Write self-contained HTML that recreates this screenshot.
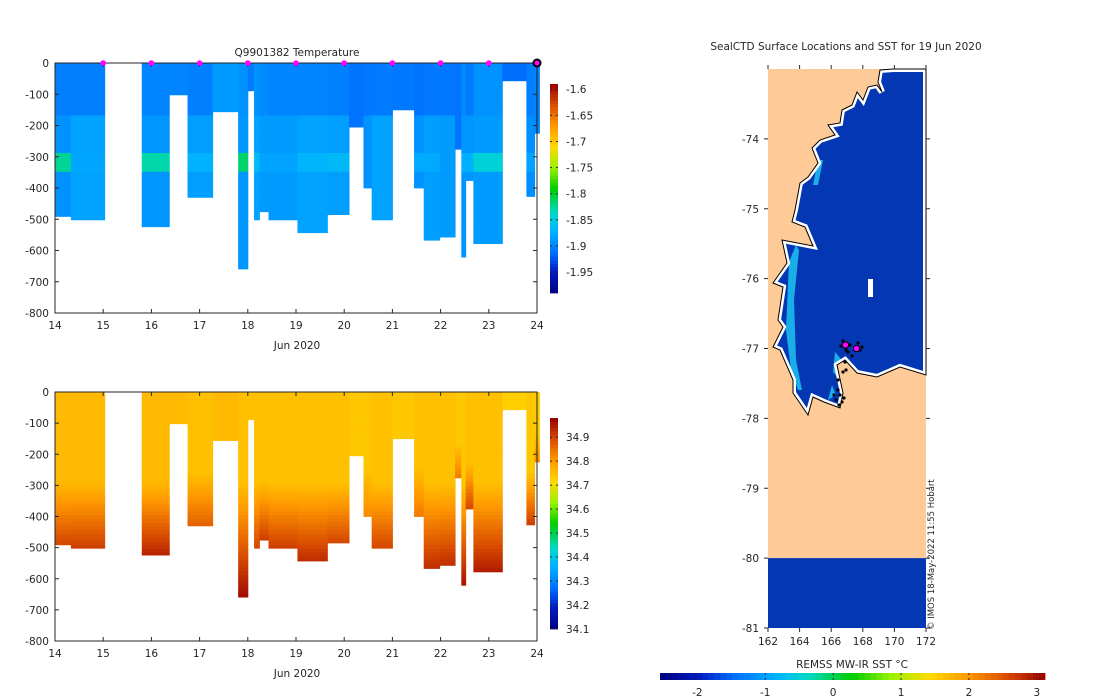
<!DOCTYPE html>
<html><head><meta charset="utf-8"><style>
html,body{margin:0;padding:0;background:#fff;}
svg{display:block;font-family:"DejaVu Sans","Liberation Sans",sans-serif;}
text{font-size:10.5px;fill:#262626;}
</style></head><body>
<svg id="fig" width="1100" height="700" viewBox="0 0 1100 700">
 <defs><clipPath id="seaClip"><polygon id="seaClipPoly" points=""/></clipPath></defs>
 <g id="tempPlot"></g>
 <g id="salPlot"></g>
 <g id="mapPlot"></g>
</svg>
<script>
// ---------- data ----------
const profStart = [14.0,14.33,15.8,16.37,16.75,17.27,17.8,18.0,18.13,18.24,18.43,19.03,19.65,20.1,20.4,20.57,21.0,21.45,21.65,21.98,22.3,22.43,22.52,22.68,23.28,23.78,23.95];
const profEnd   = [14.33,15.03,16.37,16.75,17.27,17.8,18.0,18.13,18.24,18.43,19.03,19.65,20.1,20.4,20.57,21.0,21.45,21.65,21.98,22.3,22.43,22.52,22.68,23.28,23.78,23.95,24.05];
const profDepth = [491,502,524,102,430,156,659,89,502,476,502,543,485,205,400,502,150,400,567,557,276,621,376,578,57,427,225];
const tempUpper = [-1.902,-1.902,-1.899,-1.899,-1.902,-1.885,-1.890,-1.905,-1.890,-1.895,-1.899,-1.899,-1.902,-1.909,-1.907,-1.905,-1.907,-1.909,-1.907,-1.907,-1.909,-1.895,-1.905,-1.890,-1.912,-1.902,-1.897];
const tempLower = [-1.890,-1.880,-1.888,-1.899,-1.882,-1.885,-1.888,-1.905,-1.880,-1.885,-1.885,-1.880,-1.883,-1.909,-1.890,-1.880,-1.907,-1.890,-1.883,-1.885,-1.909,-1.888,-1.888,-1.885,-1.912,-1.892,-1.897];
const tempBand  = [-1.825,-1.878,-1.830,-1.899,-1.870,-1.885,-1.815,-1.905,-1.860,-1.880,-1.880,-1.868,-1.865,-1.909,-1.890,-1.880,-1.907,-1.875,-1.875,-1.885,-1.909,-1.870,-1.872,-1.845,-1.912,-1.880,-1.897];
const salTop    = [34.76,34.76,34.76,34.76,34.75,34.76,34.75,34.75,34.75,34.75,34.75,34.75,34.75,34.74,34.74,34.75,34.74,34.75,34.75,34.75,34.74,34.74,34.75,34.75,34.73,34.74,34.73];
const salBot    = [34.90,34.91,34.94,34.76,34.87,34.76,34.97,34.75,34.90,34.91,34.91,34.93,34.90,34.74,34.82,34.90,34.74,34.84,34.93,34.93,34.84,34.96,34.90,34.95,34.73,34.91,34.82];
const dayTicks = [14,15,16,17,18,19,20,21,22,23,24];
const depthTicks = [0,-100,-200,-300,-400,-500,-600,-700,-800];
const tempCbTicks = [-1.6,-1.65,-1.7,-1.75,-1.8,-1.85,-1.9,-1.95];
const salCbTicks = [34.9,34.8,34.7,34.6,34.5,34.4,34.3,34.2,34.1];
const markerDays = [15,16,17,18,19,20,21,22,23];
const lonTicks = [162,164,166,168,170,172];
const latTicks = [-74,-75,-76,-77,-78,-79,-80,-81];
const sstTicks = [-2,-1,0,1,2,3];
const stationLon = [166.9,167.6];
const stationLat = [-76.95,-77.0];

// ---------- helpers ----------
const NS="http://www.w3.org/2000/svg";
function mk(tag,attrs,parent){const e=document.createElementNS(NS,tag);for(const k in attrs)e.setAttribute(k,attrs[k]);parent.appendChild(e);return e;}
function cl(v){return Math.max(0,Math.min(1,v));}
const CM=[[0,0,0,0.5],[0.1,0,0.1,0.75],[0.2,0,0.45,1],[0.3,0,0.7,1],[0.38,0,0.85,0.8],[0.5,0,0.8,0],[0.6,0.6,0.95,0],[0.7,1,0.85,0],[0.8,1,0.6,0],[0.9,0.85,0.3,0],[1,0.6,0,0]];
function jet(t){t=cl(t);let i=0;while(i<CM.length-2&&t>CM[i+1][0])i++;
 const a=CM[i],b=CM[i+1],f=(t-a[0])/(b[0]-a[0]);
 const c=[1,2,3].map(k=>Math.round((a[k]+(b[k]-a[k])*f)*255));
 return `rgb(${c[0]},${c[1]},${c[2]})`;}
const T0=-1.99,T1=-1.59,S0=34.1,S1=34.98,M0=-2.55,M1=3.12;

function section(gid,y0,y1,valueFn,vmin,vmax,cbTop,cbBot,cbTicks,cbFmt,title){
 const g=document.getElementById(gid);
 const X0=55,X1=537;
 const xs=d=>X0+(d-14)*(X1-X0)/10;
 const ys=m=>y0+(-m)*(y1-y0)/800;
 for(let i=0;i<profStart.length;i++){
  const depth=profDepth[i];
  for(let d=0;d<depth;d+=12){
   const dd=Math.min(12,depth-d);
   const r=mk('rect',{x:xs(profStart[i]),y:ys(-d),width:xs(profEnd[i])-xs(profStart[i])+0.5,height:ys(-(d+dd))-ys(-d)+0.4,fill:jet((valueFn(i,d+dd/2)-vmin)/(vmax-vmin))},g);
   
   
  }
 }
 const fr=mk('rect',{x:X0,y:y0,width:X1-X0,height:y1-y0,fill:'none',stroke:'#262626','stroke-width':1},g);
 
 
 dayTicks.forEach(d=>{
  mk('line',{x1:xs(d),x2:xs(d),y1:y1,y2:y1-4,stroke:'#262626'},g);
  mk('line',{x1:xs(d),x2:xs(d),y1:y0,y2:y0+4,stroke:'#262626'},g);
  const t=mk('text',{x:xs(d),y:y1+16,'text-anchor':'middle'},g);t.textContent=d;
  
  
 });
 depthTicks.forEach(m=>{
  mk('line',{x1:X0,x2:X0+4,y1:ys(m),y2:ys(m),stroke:'#262626'},g);
  mk('line',{x1:X1,x2:X1-4,y1:ys(m),y2:ys(m),stroke:'#262626'},g);
  const t=mk('text',{x:X0-6,y:ys(m)+4,'text-anchor':'end'},g);t.textContent=m;
  
  
 });
 const xl=mk('text',{x:297,y:y1+36,'text-anchor':'middle'},g);xl.textContent='Jun 2020';
 
 
 if(title){const tt=mk('text',{x:297,y:y0-7,'text-anchor':'middle'},g);tt.textContent=title;
  
  }
 const N=64,cx=550,cw=8;
 for(let k=0;k<N;k++){
  const r=mk('rect',{x:cx,y:cbBot-(k+1)*(cbBot-cbTop)/N,width:cw,height:(cbBot-cbTop)/N+0.4,fill:jet((k+0.5)/N)},g);
  
  
 }
 const cy=v=>cbBot-(v-vmin)/(vmax-vmin)*(cbBot-cbTop);
 cbTicks.forEach(v=>{
  mk('line',{x1:cx,x2:cx+2,y1:cy(v),y2:cy(v),stroke:'#262626'},g);
  mk('line',{x1:cx+cw,x2:cx+cw-2,y1:cy(v),y2:cy(v),stroke:'#262626'},g);
  const t=mk('text',{x:cx+16,y:cy(v)+4},g);t.textContent=cbFmt(v);
  
  
 });
 return {xs,ys,g};
}

function tempAt(i,d){
 const split=Math.min(profDepth[i],170);
 if(d<split) return tempUpper[i];
 if(d>290&&d<350) return tempBand[i];
 return tempLower[i];
}
function salAt(i,d){
 const dep=profDepth[i];const s=Math.min(290,dep*0.6);
 if(d<s) return salTop[i];
 return salTop[i]+(salBot[i]-salTop[i])*Math.min(1,(d-s)/Math.max(1,dep-s));
}
const topPlot=section('tempPlot',63,313,tempAt,T0,T1,84,293,tempCbTicks,v=>v.toFixed(2).replace(/0$/,''),'Q9901382  Temperature');
markerDays.forEach(d=>{
 const c=mk('circle',{cx:topPlot.xs(d),cy:63,r:2.8,fill:'#ff00ff'},topPlot.g);
 
 
});
const lastM=mk('circle',{cx:topPlot.xs(24),cy:63,r:3.5,fill:'#ff00ff',stroke:'#000','stroke-width':2},topPlot.g);


section('salPlot',392,641,salAt,S0,S1,418,629,salCbTicks,v=>v.toFixed(1),null);

// ---------- map ----------
(function(){
 const g=document.getElementById('mapPlot');
 const MX0=768,MX1=926,MY0=69,MY1=628;
 const lx=l=>MX0+(l-162)*(MX1-MX0)/10;
 const ly=l=>MY0+(-73-l)*(MY1-MY0)/8;
 const land=mk('rect',{x:MX0,y:MY0,width:MX1-MX0,height:MY1-MY0,fill:'#fecb98'},g);
 
 
 const sea2=mk('rect',{x:MX0,y:ly(-80),width:MX1-MX0,height:MY1-ly(-80),fill:'#0437b4'},g);
 
 
 const pts="926,69 893,69 880,70 878,82 882,92 877,85 868,87 863,100 857,92 852,105 842,110 840,123 828,125 835,135 820,140 812,148 818,163 808,177 800,183 795,210 792,222 805,227 813,246 782,240 787,263 773,283 783,287 778,320 783,327 773,347 780,350 793,380 793,393 808,415 813,397 824,402 840,408 843,393 837,365 845,360 857,373 877,377 900,367 926,375";
 document.getElementById('seaClipPoly').setAttribute('points',pts);
 const sea=mk('polygon',{points:pts,fill:'#0437b4'},g);
 
 
 const cg=mk('g',{'clip-path':'url(#seaClip)'},g);
 ["796,245 789,262 786,330 791,370 798,390 802,390 796,360 794,300 799,250","818,160 813,185 818,185 823,160","835,352 833,372 842,382 846,365","828,400 836,395 832,385"].forEach(p=>{
  const s=mk('polygon',{points:p,fill:'#1aaee8'},cg);
  
  
 });
 const wedge=mk('polygon',{points:pts,fill:'none',stroke:'#fff','stroke-width':6},cg);
 
 
 const coast=mk('polygon',{points:pts,fill:'none',stroke:'#000','stroke-width':1},g);
 
 
 const ice=mk('rect',{x:868,y:279,width:5,height:18,fill:'#fff'},g);
 
 
 const trk=[[843,341],[846,350],[850,345],[858,343],[860,350],[852,356],[845,362],[843,372],[838,380],[840,395],[836,400],[842,402],[834,395],[846,370],[855,347],[841,346],[838,390],[844,398],[839,405],[848,352],[862,347]];
 trk.forEach(p=>{const c=mk('circle',{cx:p[0],cy:p[1],r:1.6,fill:'#000'},g);
  
  });
 stationLon.forEach((lo,i)=>{
  const c=mk('circle',{cx:lx(lo),cy:ly(stationLat[i]),r:3.2,fill:'#ff00ff',stroke:'#000','stroke-width':1},g);
  
  
 });
 lonTicks.forEach(l=>{
  mk('line',{x1:lx(l),x2:lx(l),y1:MY1,y2:MY1+4,stroke:'#262626'},g);
  mk('line',{x1:lx(l),x2:lx(l),y1:MY0,y2:MY0-4,stroke:'#262626'},g);
  const t=mk('text',{x:lx(l),y:MY1+17,'text-anchor':'middle'},g);t.textContent=l;
  
  
 });
 latTicks.forEach(l=>{
  mk('line',{x1:MX0-4,x2:MX0,y1:ly(l),y2:ly(l),stroke:'#262626'},g);
  mk('line',{x1:MX1,x2:MX1+4,y1:ly(l),y2:ly(l),stroke:'#262626'},g);
  const t=mk('text',{x:MX0-9,y:ly(l)+4,'text-anchor':'end'},g);t.textContent=l;
  
  
 });
 const tt=mk('text',{x:846,y:50,'text-anchor':'middle'},g);tt.textContent='SealCTD Surface Locations and SST for 19 Jun 2020';
 
 
 const wm=mk('text',{x:0,y:0,transform:'translate(934,630) rotate(-90)',style:'font-size:8.5px'},g);wm.textContent='© IMOS 18-May-2022 11:55 Hobart';
 
 
 const CX0=660,CX1=1045,N=64;
 for(let k=0;k<N;k++){
  const r=mk('rect',{x:CX0+k*(CX1-CX0)/N,y:673,width:(CX1-CX0)/N+0.4,height:7,fill:jet((k+0.5)/N)},g);
  
  
 }
 const cx=v=>CX0+(v-M0)/(M1-M0)*(CX1-CX0);
 sstTicks.forEach(v=>{
  mk('line',{x1:cx(v),x2:cx(v),y1:673,y2:675,stroke:'#262626'},g);
  mk('line',{x1:cx(v),x2:cx(v),y1:680,y2:678,stroke:'#262626'},g);
  const t=mk('text',{x:cx(v),y:696,'text-anchor':'middle'},g);t.textContent=v;
  
  
 });
 const cl2=mk('text',{x:852,y:668,'text-anchor':'middle'},g);cl2.textContent='REMSS MW-IR SST °C';
 
 
})();
</script>
</body></html>
